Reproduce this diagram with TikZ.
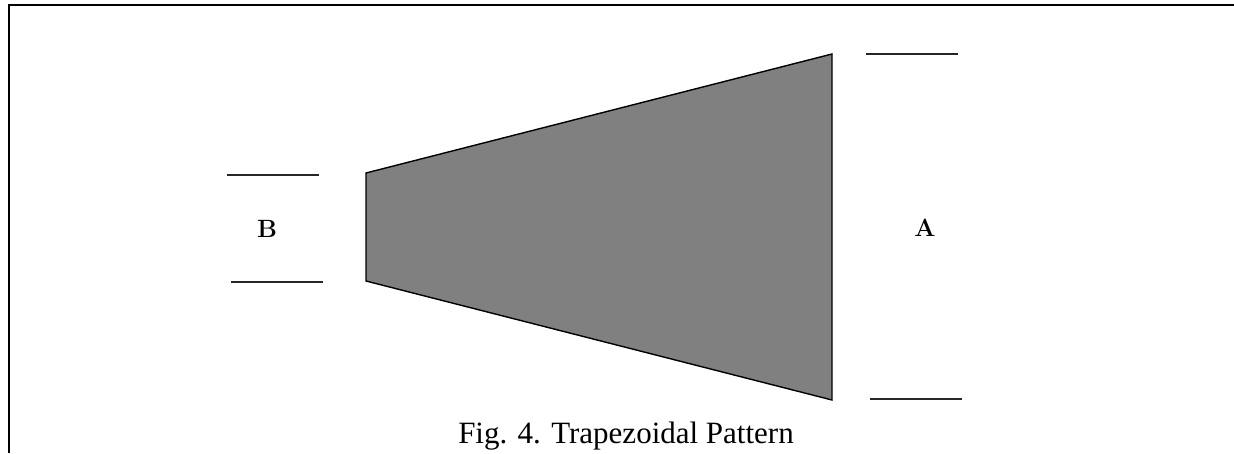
\documentclass[tikz,border=0pt]{standalone}
\usepackage{fontspec}
\newfontfamily\capfont{Liberation Serif}
\begin{document}
\begin{tikzpicture}[x=1pt,y=-1pt,
  frame/.style={line width=2.6pt},
  dimline/.style={line width=1.5pt, draw=black!85},
  trapfill/.style={draw=black, line width=1.4pt, fill=black!50!white},
  lbl/.style={inner sep=0pt, font=\fontsize{25}{27}\selectfont}]
\useasboundingbox (0,0) rectangle (1234,453);
% frame
\coordinate (ftl) at (9,5);
\coordinate (ftr) at (1234,5);
\coordinate (fbl) at (9,453);
\draw[frame] (fbl) -- (ftl) -- (ftr);
% trapezoid
\coordinate (tl) at (366,173);
\coordinate (tr) at (832,54);
\coordinate (br) at (832,400);
\coordinate (bl) at (366,281);
\draw[trapfill] (tl) -- (tr) -- (br) -- (bl) -- cycle;
% B dimension lines
\coordinate (b1a) at (227,175);
\coordinate (b1b) at (319,175);
\coordinate (b2a) at (231,282);
\coordinate (b2b) at (323,282);
\draw[dimline] (b1a) -- (b1b);
\draw[dimline] (b2a) -- (b2b);
\node[lbl, font=\fontsize{25}{27}\selectfont\bfseries] (B) at (267,229) {B};
% A dimension lines
\coordinate (a1a) at (866,54);
\coordinate (a1b) at (958,54);
\coordinate (a2a) at (870,399);
\coordinate (a2b) at (962,399);
\draw[dimline] (a1a) -- (a1b);
\draw[dimline] (a2a) -- (a2b);
\node[lbl] (A) at (925,228) {\textbf{A}};
% caption
\node[inner sep=0pt, anchor=base, font=\capfont\fontsize{31}{34}\selectfont] (cap) at (626,443) {Fig. 4. Trapezoidal Pattern};
\end{tikzpicture}
\end{document}
